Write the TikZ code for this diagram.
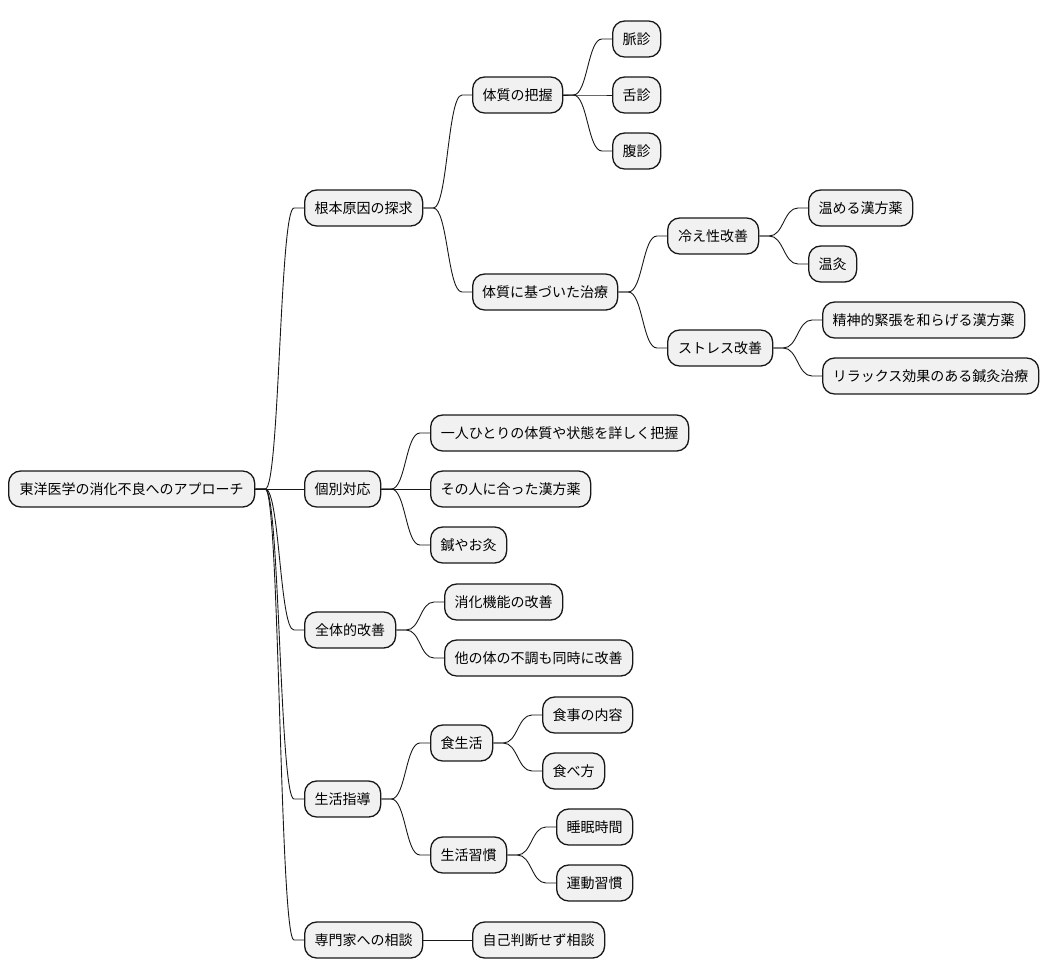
\documentclass[tikz,border=0pt]{standalone}
\usepackage{fontspec}
\setmainfont{Noto Sans CJK JP}
\usetikzlibrary{calc}
\definecolor{boxfill}{HTML}{F1F1F1}
\definecolor{boxline}{HTML}{181818}
\tikzset{
  mm/.style={draw=boxline, fill=boxfill, line width=1.3pt, rounded corners=12pt,
    minimum height=36pt, anchor=west, inner sep=0pt, align=center,
    font=\fontsize{14pt}{16pt}\selectfont},
  link/.style={draw=boxline, line width=0.9pt}
}
\newcommand\mmnode[5]{\node[mm, minimum width=#4pt] (#1) at (#2pt,-#3pt) {#5};}
\newcommand\mmlink[2]{%
  \draw[link] let \p1=(#1.east), \p2=(#2.west), \n1={(\x1+\x2)/2} in
    (\p1) -- (\x1+10pt,\y1) .. controls (\n1,\y1) and (\n1,\y2) .. (\x2-10pt,\y2) -- (\p2);}
\begin{document}
\begin{tikzpicture}[x=1pt,y=1pt]
\useasboundingbox (0,0) rectangle (1048,-978);
\mmnode{r}{8}{489}{246}{東洋医学の消化不良へのアプローチ}
\mmnode{a}{304}{208}{118}{根本原因の探求}
\mmnode{b}{304}{489}{76}{個別対応}
\mmnode{c}{304}{630}{91}{全体的改善}
\mmnode{d}{304}{799}{76}{生活指導}
\mmnode{e}{304}{940}{118}{専門家への相談}
\mmnode{a1}{472}{95}{90}{体質の把握}
\mmnode{a2}{472}{292}{145}{体質に基づいた治療}
\mmnode{a11}{612}{39}{48}{脈診}
\mmnode{a12}{612}{95}{48}{舌診}
\mmnode{a13}{612}{151}{48}{腹診}
\mmnode{a21}{667}{236}{91}{冷え性改善}
\mmnode{a22}{667}{348}{105}{ストレス改善}
\mmnode{a211}{808}{208}{104}{温める漢方薬}
\mmnode{a212}{808}{264}{48}{温灸}
\mmnode{a221}{822}{320}{202}{精神的緊張を和らげる漢方薬}
\mmnode{a222}{822}{376}{216}{リラックス効果のある鍼灸治療}
\mmnode{b1}{430}{433}{258}{一人ひとりの体質や状態を詳しく把握}
\mmnode{b2}{430}{489}{160}{その人に合った漢方薬}
\mmnode{b3}{430}{545}{76}{鍼やお灸}
\mmnode{c1}{444}{602}{118}{消化機能の改善}
\mmnode{c2}{444}{658}{188}{他の体の不調も同時に改善}
\mmnode{d1}{430}{743}{62}{食生活}
\mmnode{d2}{430}{855}{76}{生活習慣}
\mmnode{d11}{542}{715}{90}{食事の内容}
\mmnode{d12}{542}{771}{62}{食べ方}
\mmnode{d21}{556}{827}{76}{睡眠時間}
\mmnode{d22}{556}{883}{76}{運動習慣}
\mmnode{e1}{472}{940}{132}{自己判断せず相談}
\mmlink{r}{a}\mmlink{r}{b}\mmlink{r}{c}\mmlink{r}{d}\mmlink{r}{e}
\mmlink{a}{a1}\mmlink{a}{a2}
\mmlink{a1}{a11}\mmlink{a1}{a12}\mmlink{a1}{a13}
\mmlink{a2}{a21}\mmlink{a2}{a22}
\mmlink{a21}{a211}\mmlink{a21}{a212}
\mmlink{a22}{a221}\mmlink{a22}{a222}
\mmlink{b}{b1}\mmlink{b}{b2}\mmlink{b}{b3}
\mmlink{c}{c1}\mmlink{c}{c2}
\mmlink{d}{d1}\mmlink{d}{d2}
\mmlink{d1}{d11}\mmlink{d1}{d12}
\mmlink{d2}{d21}\mmlink{d2}{d22}
\mmlink{e}{e1}
\end{tikzpicture}
\end{document}
